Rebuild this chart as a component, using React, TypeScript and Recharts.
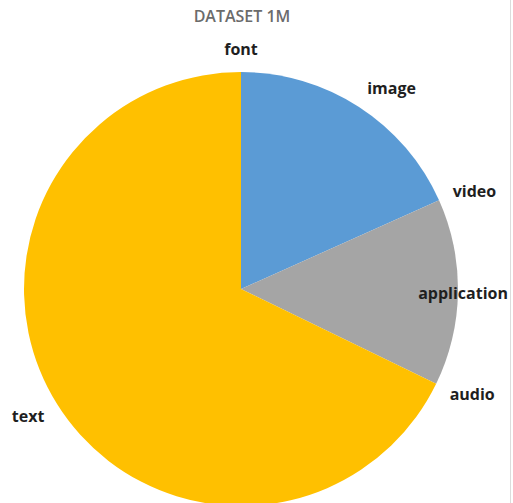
import React from 'react';
import { PieChart, Pie, Cell } from 'recharts';

const categories = ['font', 'image', 'video', 'application', 'audio', 'text'];
const shares = [0, 18.3, 0, 13.9, 0, 67.8];
const colors = ['#FFC000', '#5B9BD5', '#A5A5A5', '#A5A5A5', '#FFC000', '#FFC000'];

const chartData = categories.map((name, i) => ({ name, value: shares[i] }));

const W = 513;
const H = 503;
const RADIAN = Math.PI / 180;

// Excel-ish "best fit" labels: box corner just outside the edge, clamped to the chart width
const renderLabel = (props: any) => {
  const { cx, cy, midAngle, outerRadius, name } = props;
  const r = outerRadius + 15;
  const c = Math.cos(-midAngle * RADIAN);
  const s = Math.sin(-midAngle * RADIAN);
  let x = cx + r * c;
  const y = cy + r * s + 8 * s;
  let anchor: 'start' | 'end' | 'middle' = c > 0.1 ? 'start' : c < -0.1 ? 'end' : 'middle';
  const estWidth = name.length * 9.4;
  if (anchor === 'start' && x + estWidth > W - 5) {
    x = W - 5;
    anchor = 'end';
  }
  return (
    <text
      x={x}
      y={y}
      textAnchor={anchor}
      dominantBaseline="central"
      fill="#1f1f1f"
      fontSize={16}
      fontWeight={700}
      fontFamily="'Open Sans', sans-serif"
    >
      {name}
    </text>
  );
};

const App: React.FC = () => {
  return (
    <div
      style={{
        position: 'absolute',
        left: 0,
        top: 0,
        width: W,
        height: H,
        background: '#ffffff',
        overflow: 'hidden',
      }}
    >
      <div
        style={{
          position: 'absolute',
          top: 5,
          left: 0,
          width: 484,
          textAlign: 'center',
          fontFamily: "'Open Sans', sans-serif",
          fontSize: 16,
          fontWeight: 600,
          color: '#6b6b6b',
        }}
      >
        DATASET 1M
      </div>
      <div style={{ position: 'absolute', left: 510, top: 0, width: 1, height: H, background: '#dcdcdc' }} />
      <PieChart width={W} height={H} margin={{ top: 0, right: 0, bottom: 0, left: 0 }}>
        <Pie
          data={chartData}
          dataKey="value"
          nameKey="name"
          cx={241}
          cy={289}
          outerRadius={217}
          startAngle={90}
          endAngle={-270}
          stroke="none"
          label={renderLabel}
          labelLine={false}
          isAnimationActive={false}
        >
          {chartData.map((d, i) => (
            <Cell key={d.name} fill={colors[i]} />
          ))}
        </Pie>
      </PieChart>
    </div>
  );
};

export default App;
